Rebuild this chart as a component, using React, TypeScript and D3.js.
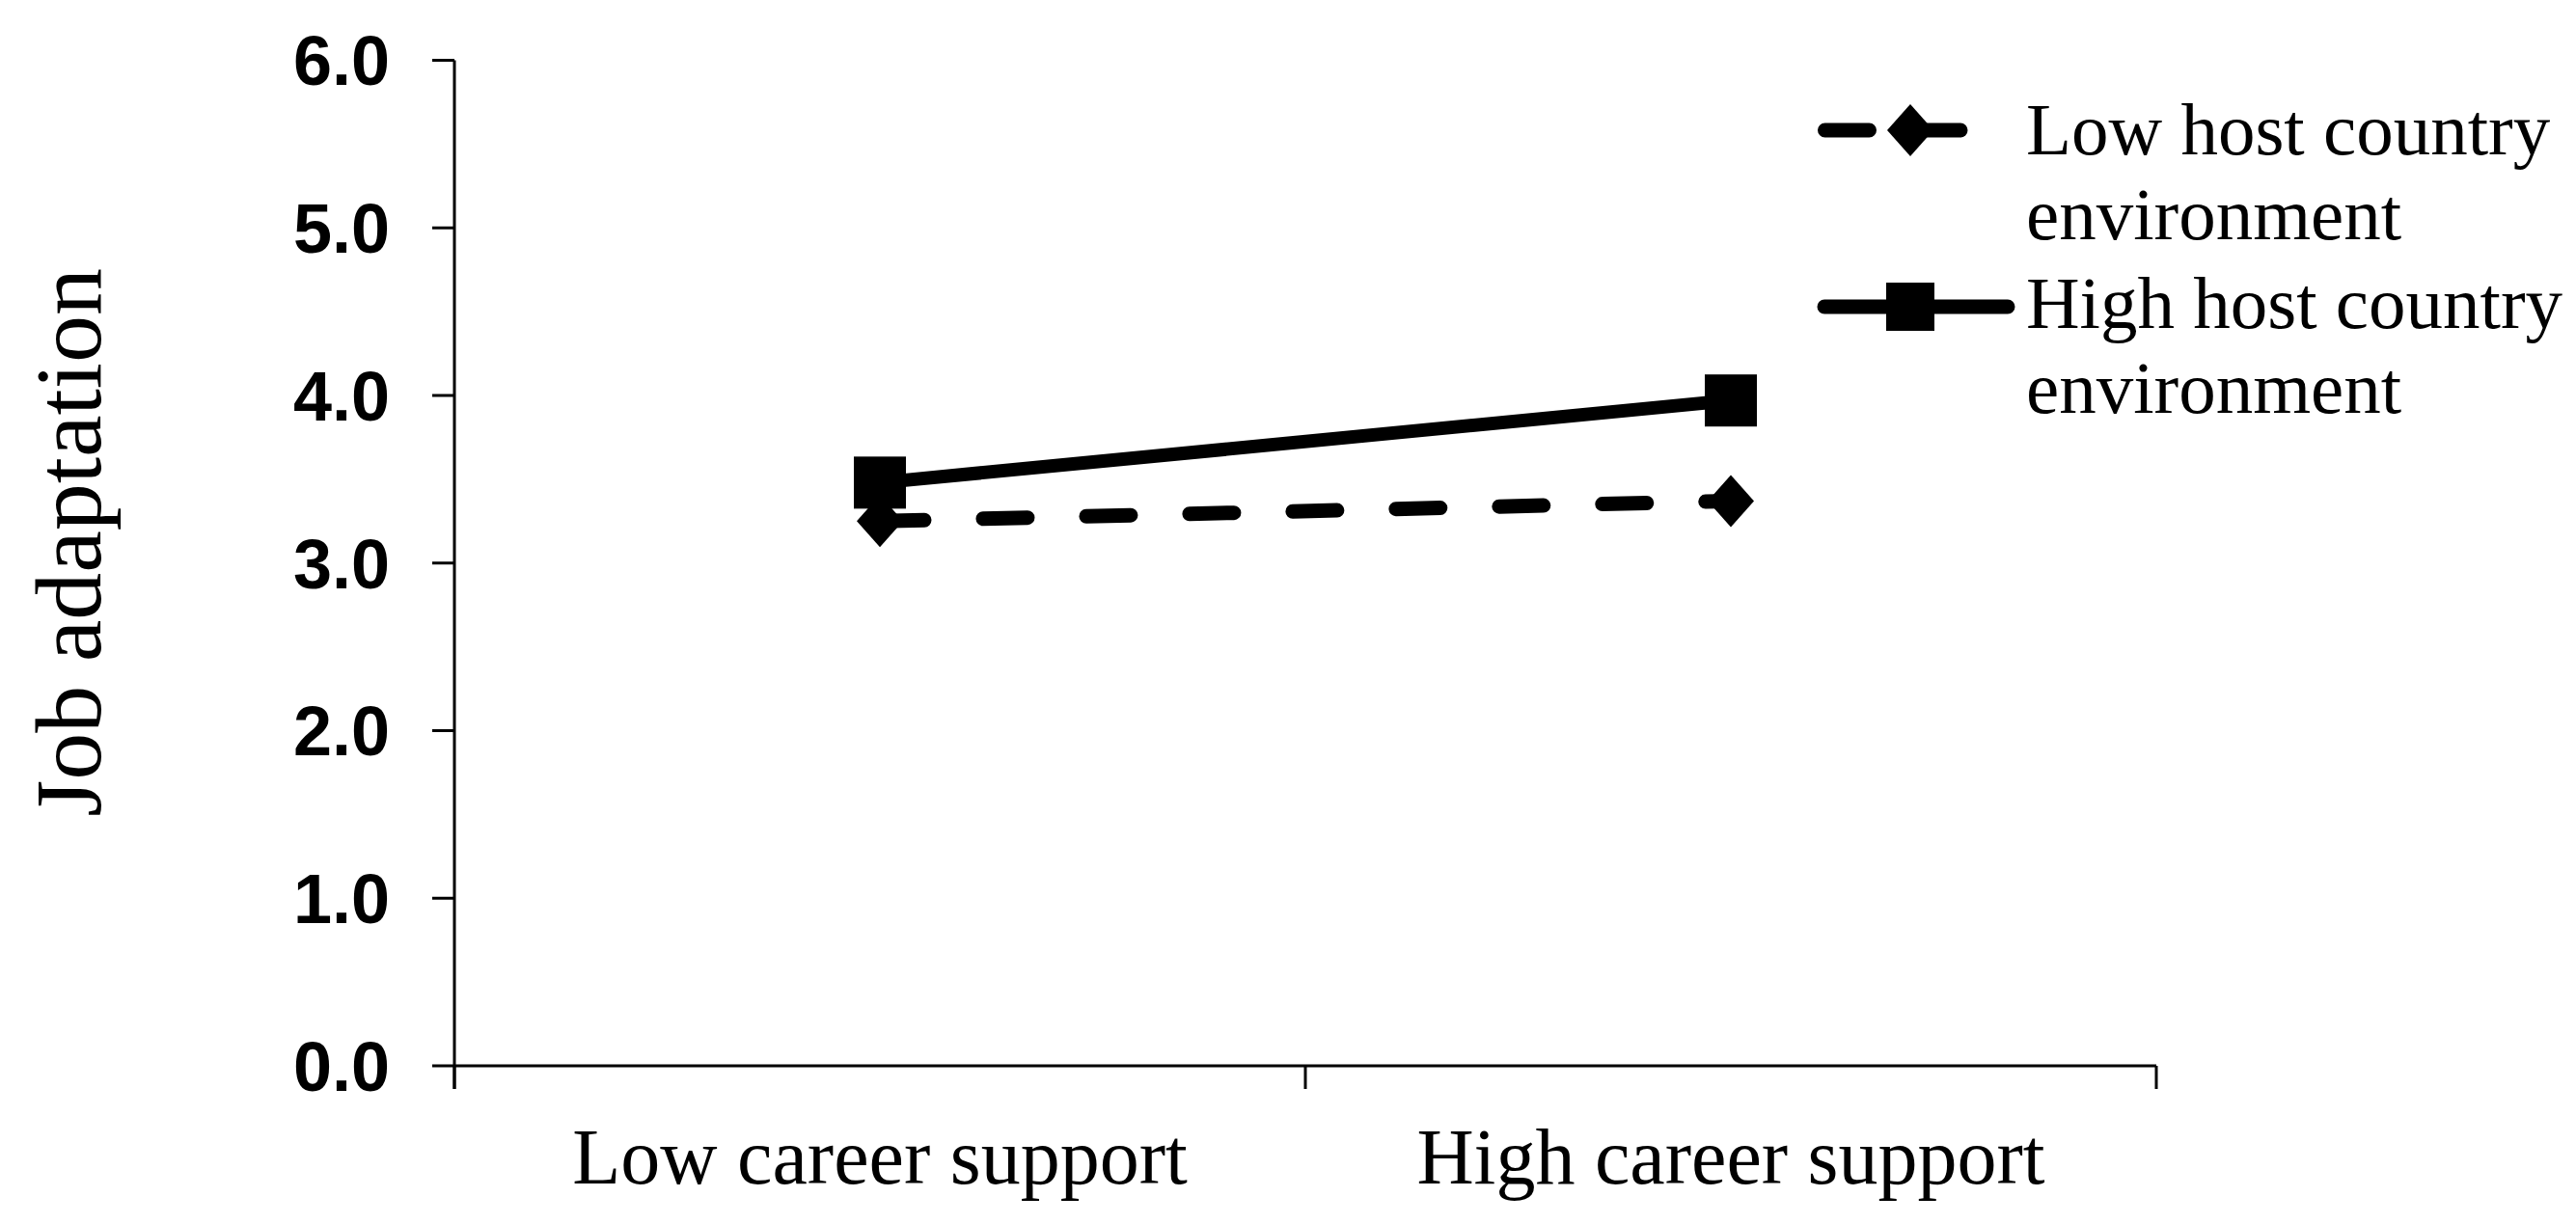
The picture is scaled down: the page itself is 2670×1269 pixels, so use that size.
import React, { useEffect } from 'react';
import * as d3 from 'd3';

// chart values
const categories = ['Low career support', 'High career support'];
const lowHostValues = [3.25, 3.37];
const highHostValues = [3.48, 3.97];
const yTicks = [0, 1, 2, 3, 4, 5, 6];
const lowHostLabel = ['Low host country', 'environment'];
const highHostLabel = ['High host country', 'environment'];
const yTitle = 'Job adaptation';

const W = 2670;
const H = 1269;
const serif = '"Liberation Serif", "Times New Roman", serif';
const sans = '"Liberation Sans", Arial, sans-serif';

const diamondPath = (cx, cy, w = 48, h = 54) =>
  `M${cx},${cy - h / 2}L${cx + w / 2},${cy}L${cx},${cy + h / 2}L${cx - w / 2},${cy}Z`;

const App = () => {
  useEffect(() => {
    document.body.style.margin = '0';
  }, []);

  const x = d3.scaleBand().domain(categories).range([471, 2235]).padding(0);
  const y = d3.scaleLinear().domain([0, 6]).range([1105, 62.5]);
  const cx = (c) => x(c) + x.bandwidth() / 2;

  const line = d3.line().x((d) => cx(d[0])).y((d) => y(d[1]));
  const lowPts = categories.map((c, i) => [c, lowHostValues[i]]);
  const highPts = categories.map((c, i) => [c, highHostValues[i]]);

  const bounds = [...categories.map((c) => x(c)), x.range()[1]];
  const x0 = x.range()[0];
  const y0 = y(0);

  return (
    <svg width={W} height={H} style={{ display: 'block', background: '#fff' }}>
      {/* y axis */}
      <line x1={x0} x2={x0} y1={y(6)} y2={y0 + 24} stroke="#000" strokeWidth={3} />
      {yTicks.map((t) => (
        <g key={t}>
          <line x1={x0 - 23} x2={x0} y1={y(t)} y2={y(t)} stroke="#000" strokeWidth={3} />
          <text
            x={404}
            y={y(t)}
            dy="0.36em"
            textAnchor="end"
            fontFamily={sans}
            fontWeight="bold"
            fontSize={72}
          >
            {t.toFixed(1)}
          </text>
        </g>
      ))}

      {/* x axis */}
      <line x1={x0} x2={x.range()[1]} y1={y0} y2={y0} stroke="#000" strokeWidth={3} />
      {bounds.map((b, i) => (
        <line key={i} x1={b} x2={b} y1={y0} y2={y0 + 24} stroke="#000" strokeWidth={3} />
      ))}
      {categories.map((c) => (
        <text key={c} x={cx(c)} y={1227} textAnchor="middle" fontFamily={serif} fontSize={82}>
          {c}
        </text>
      ))}

      {/* y title */}
      <text
        transform="translate(104,278) rotate(-90)"
        textAnchor="end"
        fontFamily={serif}
        fontSize={98}
      >
        {yTitle}
      </text>

      {/* low host country: dashed with diamonds */}
      <path
        d={line(lowPts)}
        fill="none"
        stroke="#000"
        strokeWidth={15}
        strokeDasharray="46,61"
        strokeLinecap="round"
      />
      {lowPts.map((p, i) => (
        <path key={i} d={diamondPath(cx(p[0]), y(p[1]))} fill="#000" />
      ))}

      {/* high host country: solid with squares */}
      <path d={line(highPts)} fill="none" stroke="#000" strokeWidth={14} />
      {highPts.map((p, i) => (
        <rect key={i} x={cx(p[0]) - 27} y={y(p[1]) - 27} width={54} height={54} fill="#000" />
      ))}

      {/* legend */}
      <g>
        <line
          x1={1891.5}
          x2={2032}
          y1={135}
          y2={135}
          stroke="#000"
          strokeWidth={15}
          strokeDasharray="46,58"
          strokeLinecap="round"
        />
        <path d={diamondPath(1980, 135)} fill="#000" />
        {lowHostLabel.map((s, i) => (
          <text key={s} x={2100} y={160 + i * 88} fontFamily={serif} fontSize={77}>
            {s}
          </text>
        ))}

        <line x1={1891} x2={2081} y1={318} y2={318} stroke="#000" strokeWidth={15} strokeLinecap="round" />
        <rect x={1980 - 25} y={318 - 25} width={50} height={50} fill="#000" />
        {highHostLabel.map((s, i) => (
          <text key={s} x={2100} y={340 + i * 88} fontFamily={serif} fontSize={77}>
            {s}
          </text>
        ))}
      </g>
    </svg>
  );
};

export default App;
